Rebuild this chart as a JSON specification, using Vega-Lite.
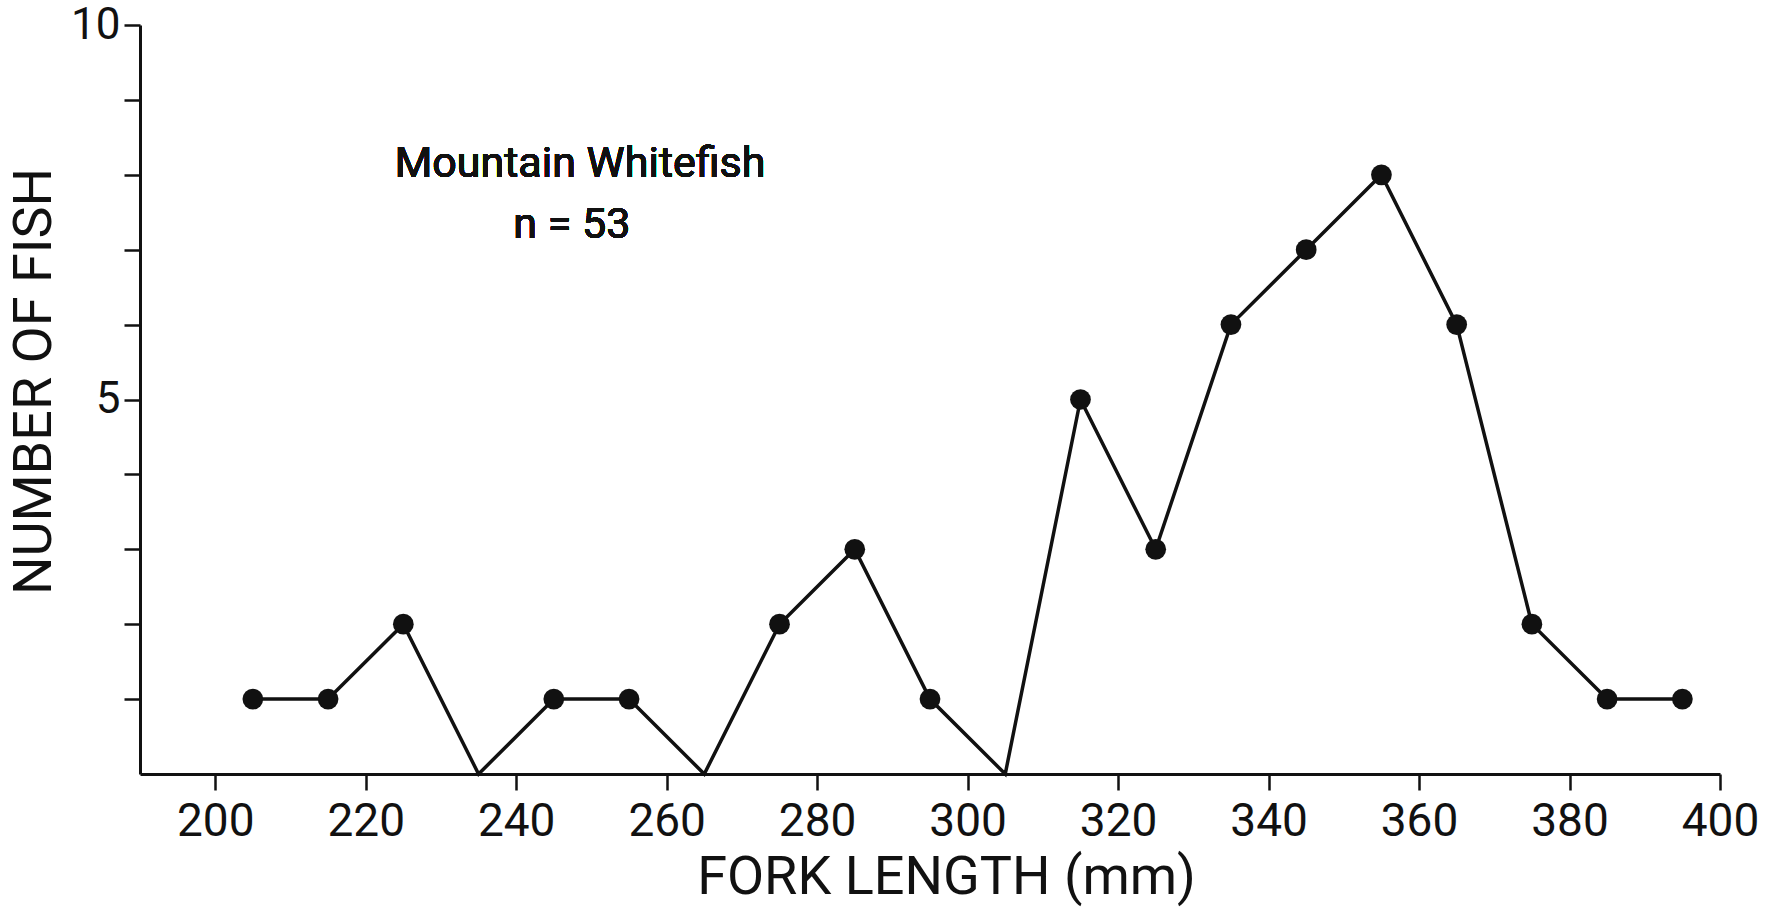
{
  "$schema": "https://vega.github.io/schema/vega-lite/v6.json",
  "autosize": {"type": "none"},
  "padding": {"left": 140, "top": 25, "right": 71, "bottom": 133},
  "width": 1580,
  "height": 749,
  "background": "white",
  "config": {
    "view": {"stroke": null},
    "font": "Roboto",
    "axis": {
      "domainColor": "#111",
      "domainWidth": 3,
      "tickColor": "#111",
      "tickWidth": 2.5,
      "tickSize": 16,
      "labelColor": "#111",
      "titleColor": "#111",
      "labelFont": "Roboto",
      "titleFont": "Roboto",
      "labelFontWeight": "normal",
      "titleFontWeight": "normal",
      "grid": false
    }
  },
  "data": {
    "values": [
      {"length": 205, "fish": 1},
      {"length": 215, "fish": 1},
      {"length": 225, "fish": 2},
      {"length": 235, "fish": 0},
      {"length": 245, "fish": 1},
      {"length": 255, "fish": 1},
      {"length": 265, "fish": 0},
      {"length": 275, "fish": 2},
      {"length": 285, "fish": 3},
      {"length": 295, "fish": 1},
      {"length": 305, "fish": 0},
      {"length": 315, "fish": 5},
      {"length": 325, "fish": 3},
      {"length": 335, "fish": 6},
      {"length": 345, "fish": 7},
      {"length": 355, "fish": 8},
      {"length": 365, "fish": 6},
      {"length": 375, "fish": 2},
      {"length": 385, "fish": 1},
      {"length": 395, "fish": 1}
    ]
  },
  "encoding": {
    "x": {
      "field": "length",
      "type": "quantitative",
      "scale": {"domain": [190, 400], "nice": false, "zero": false},
      "axis": {
        "title": "FORK LENGTH (mm)",
        "values": [200, 220, 240, 260, 280, 300, 320, 340, 360, 380, 400],
        "labelFontSize": 46,
        "labelBaseline": "alphabetic",
        "labelPadding": 45,
        "labelFlush": false,
        "labelOverlap": false,
        "titleFontSize": 54,
        "titleBaseline": "alphabetic",
        "titleAlign": "center",
        "titleX": 806,
        "titleY": 119
      }
    },
    "y": {
      "field": "fish",
      "type": "quantitative",
      "scale": {"domain": [0, 10], "nice": false},
      "axis": {
        "title": "NUMBER OF FISH",
        "values": [1, 2, 3, 4, 5, 6, 7, 8, 9, 10],
        "labelExpr": "datum.value % 5 === 0 ? datum.label : ''",
        "labelFontSize": 44,
        "labelPadding": 4,
        "labelBaseline": "middle",
        "labelFlush": false,
        "labelOverlap": false,
        "titleFontSize": 54,
        "titleAngle": 270,
        "titleBaseline": "alphabetic",
        "titleAlign": "center",
        "titleX": -90,
        "titleY": 356
      }
    }
  },
  "layer": [
    {
      "mark": {"type": "line", "color": "#111", "strokeWidth": 3.5}
    },
    {
      "transform": [{"filter": "datum.fish > 0"}],
      "mark": {"type": "point", "filled": true, "color": "#111", "opacity": 1, "size": 430}
    },
    {
      "mark": {"type": "text", "text": "Mountain Whitefish", "font": "Roboto", "fontSize": 43, "color": "#111", "align": "center", "baseline": "alphabetic"},
      "encoding": {
        "x": {"datum": 248.5, "type": "quantitative"},
        "y": {"datum": 7.97, "type": "quantitative"}
      }
    },
    {
      "mark": {"type": "text", "text": "n = 53", "font": "Roboto", "fontSize": 43, "color": "#111", "align": "center", "baseline": "alphabetic"},
      "encoding": {
        "x": {"datum": 247.4, "type": "quantitative"},
        "y": {"datum": 7.16, "type": "quantitative"}
      }
    }
  ]
}
